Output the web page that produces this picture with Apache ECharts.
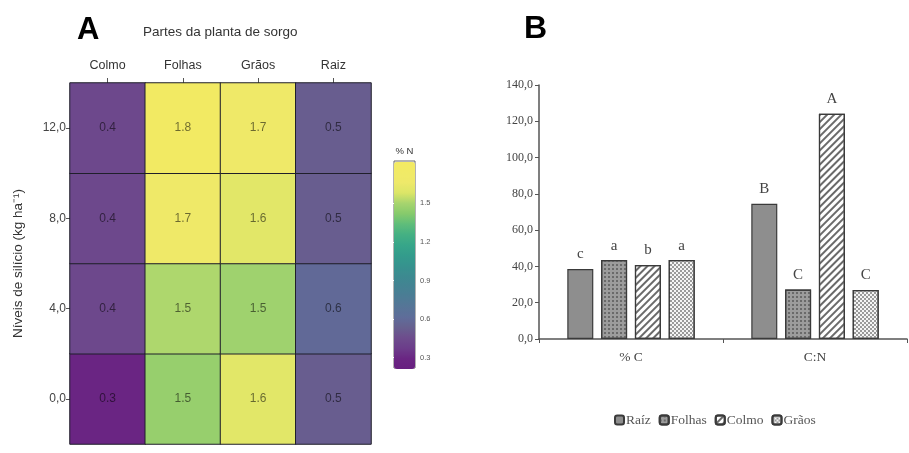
<!DOCTYPE html>
<html>
<head>
<meta charset="utf-8">
<script src="https://cdn.jsdelivr.net/npm/echarts@6/dist/echarts.min.js"></script>
<style>
  html, body { margin: 0; padding: 0; background: #fff; }
  #main { width: 909px; height: 453px; }
</style>
</head>
<body>
<div id="main"></div>
<script>
// painel A: %N por parte da planta e nível de silício
var parts = ['Colmo', 'Folhas', 'Grãos', 'Raiz'];
var siLevels = ['0,0', '4,0', '8,0', '12,0'];
// valores por nível (0, 4, 8, 12)
var nColmo = [0.30, 0.44, 0.44, 0.44];
var nFolhas = [1.47, 1.52, 1.70, 1.80];
var nGraos = [1.62, 1.49, 1.62, 1.70];
var nRaiz = [0.53, 0.60, 0.53, 0.53];
var barTicks = [0.3, 0.6, 0.9, 1.2, 1.5];

// painel B: %C e C:N
var barCats = ['% C', 'C:N'];
var raiz = [38.6, 74.5];
var folhas = [43.5, 27.3];
var colmo = [40.8, 124.1];
var graos = [43.5, 27.0];
var raizLetters = ['c', 'B'];
var folhasLetters = ['a', 'C'];
var colmoLetters = ['b', 'A'];
var graosLetters = ['a', 'C'];

var SANS = 'Liberation Sans';
var SERIF = 'Liberation Serif';

var heatData = [];
var cols = [nColmo, nFolhas, nGraos, nRaiz];
for (var i = 0; i < cols.length; i++) {
  for (var j = 0; j < siLevels.length; j++) {
    heatData.push([i, j, cols[i][j]]);
  }
}

var chart = echarts.init(document.getElementById('main'), null, { renderer: 'canvas' });

function letterSeries(name, values, letters, fill, decal, border) {
  return {
    name: name,
    type: 'bar',
    xAxisIndex: 1,
    yAxisIndex: 1,
    barWidth: 26,
    barGap: '30%',
    data: values,
    itemStyle: {
      color: fill,
      borderColor: border,
      borderWidth: 1.2,
      decal: decal
    },
    label: {
      show: true,
      position: 'top',
      distance: 7,
      fontFamily: SERIF,
      fontSize: 15,
      color: '#444',
      formatter: function (p) { return letters[p.dataIndex]; }
    }
  };
}

var option = {
  animation: false,
  backgroundColor: '#fff',
  title: [
    { text: 'A', left: 72, top: 10, textStyle: { fontFamily: SANS, fontSize: 31, fontWeight: 'bold', color: '#000' } },
    { text: 'Partes da planta de sorgo', left: 138, top: 20, textStyle: { fontFamily: SANS, fontSize: 13.5, fontWeight: 'normal', color: '#333' } },
    { text: 'B', left: 519, top: 8, textStyle: { fontFamily: SANS, fontSize: 32, fontWeight: 'bold', color: '#000' } }
  ],
  grid: [
    { left: 70, top: 83, width: 301, height: 361 },
    { left: 539, top: 85, width: 368, height: 254 },
    { left: 394, top: 161, width: 21, height: 207, show: true, borderColor: '#666', borderWidth: 1, backgroundColor: 'transparent' }
  ],
  xAxis: [
    {
      type: 'category', gridIndex: 0, position: 'top', data: parts,
      axisLine: { show: false },
      axisTick: { show: true, alignWithLabel: true, length: 5, lineStyle: { color: '#555' } },
      axisLabel: { fontFamily: SANS, fontSize: 12.5, color: '#333', margin: 11 },
      splitLine: { show: false }
    },
    {
      type: 'category', gridIndex: 1, data: barCats,
      axisLine: { lineStyle: { color: '#555', width: 1.5 } },
      axisTick: { show: true, length: 4, lineStyle: { color: '#555' } },
      axisLabel: { fontFamily: SERIF, fontSize: 13.5, color: '#444', margin: 11 }
    },
    { type: 'value', gridIndex: 2, show: false, min: 0, max: 1 }
  ],
  yAxis: [
    {
      type: 'category', gridIndex: 0, data: siLevels,
      name: 'Níveis de silício (kg ha⁻¹)', nameLocation: 'middle', nameGap: 45,
      nameTextStyle: { fontFamily: SANS, fontSize: 13.5, color: '#333' },
      axisLine: { show: false },
      axisTick: { show: true, alignWithLabel: true, length: 4, lineStyle: { color: '#555' } },
      axisLabel: { fontFamily: SANS, fontSize: 12, color: '#444', margin: 4 },
      splitLine: { show: false }
    },
    {
      type: 'value', gridIndex: 1, min: 0, max: 140, interval: 20,
      axisLine: { show: true, lineStyle: { color: '#555', width: 1.5 } },
      axisTick: { show: true, length: 4, lineStyle: { color: '#555' } },
      axisLabel: {
        fontFamily: SERIF, fontSize: 12, color: '#444', margin: 6,
        formatter: function (v) { return v.toFixed(1).replace('.', ','); }
      },
      splitLine: { show: false }
    },
    {
      type: 'value', gridIndex: 2, position: 'right', min: 0.22, max: 1.83,
      axisLine: { show: false },
      axisTick: { show: true, inside: true, length: 3, customValues: barTicks, lineStyle: { color: '#fff' } },
      axisLabel: { fontFamily: SANS, fontSize: 7.5, color: '#555', margin: 5, customValues: barTicks },
      splitLine: { show: false }
    },
    {
      type: 'value', gridIndex: 2, position: 'left', min: 0.22, max: 1.83,
      axisLine: { show: false },
      axisTick: { show: true, inside: true, length: 3, customValues: barTicks, lineStyle: { color: '#fff' } },
      axisLabel: { show: false },
      splitLine: { show: false }
    }
  ],
  visualMap: {
    type: 'continuous',
    seriesIndex: 0,
    min: 0.22,
    max: 1.83,
    calculable: false,
    orient: 'vertical',
    left: 379,
    top: 131,
    itemWidth: 21,
    itemHeight: 207,
    text: ['% N', ''],
    textGap: 6,
    textStyle: { fontFamily: SANS, fontSize: 9.5, color: '#333' },
    inRange: {
      color: ['#681f80', '#6a2583', '#6c3d8a', '#6d4c8d', '#67608f', '#5f6d9a', '#567597',
        '#4c7c95', '#438392', '#3c8a90', '#36938e', '#339c8c', '#37a689', '#45b083',
        '#5fbd7a', '#86ca6c', '#a6d46e', '#dbe567', '#eee96a', '#f1ea66', '#f3ea62']
    }
  },
  legend: {
    bottom: 21,
    left: 609,
    itemWidth: 9,
    itemHeight: 9,
    itemGap: 8,
    data: ['Raíz', 'Folhas', 'Colmo', 'Grãos'],
    textStyle: { fontFamily: SERIF, fontSize: 13.5, color: '#555', padding: [0, 0, 0, -3] }
  },
  series: [
    {
      type: 'heatmap',
      xAxisIndex: 0,
      yAxisIndex: 0,
      data: heatData,
      itemStyle: { borderColor: '#1f1f2a', borderWidth: 1 },
      label: {
        show: true,
        fontFamily: SANS,
        fontSize: 12,
        color: 'rgba(0,0,0,0.55)',
        formatter: function (p) { return p.value[2].toFixed(1); }
      }
    },
    letterSeries('Raíz', raiz, raizLetters, '#8e8e8e', null, '#3a3a3a'),
    letterSeries('Folhas', folhas, folhasLetters, '#9c9c9c',
      { symbol: 'rect', symbolSize: 1, dashArrayX: [2, 2], dashArrayY: [2, 2], color: '#6a6a6a' }, '#3a3a3a'),
    letterSeries('Colmo', colmo, colmoLetters, '#ffffff',
      { symbol: 'rect', symbolSize: 1, dashArrayX: [1, 0], dashArrayY: [2, 3], rotation: -Math.PI / 4, color: '#6a6a6a' }, '#3a3a3a'),
    letterSeries('Grãos', graos, graosLetters, '#f4f4f4',
      { symbol: 'rect', symbolSize: 1, dashArrayX: [[2, 2], [0, 2, 2, 0]], dashArrayY: [2, 0], color: '#9a9a9a' }, '#3a3a3a')
  ]
};

chart.setOption(option);
</script>
</body>
</html>
